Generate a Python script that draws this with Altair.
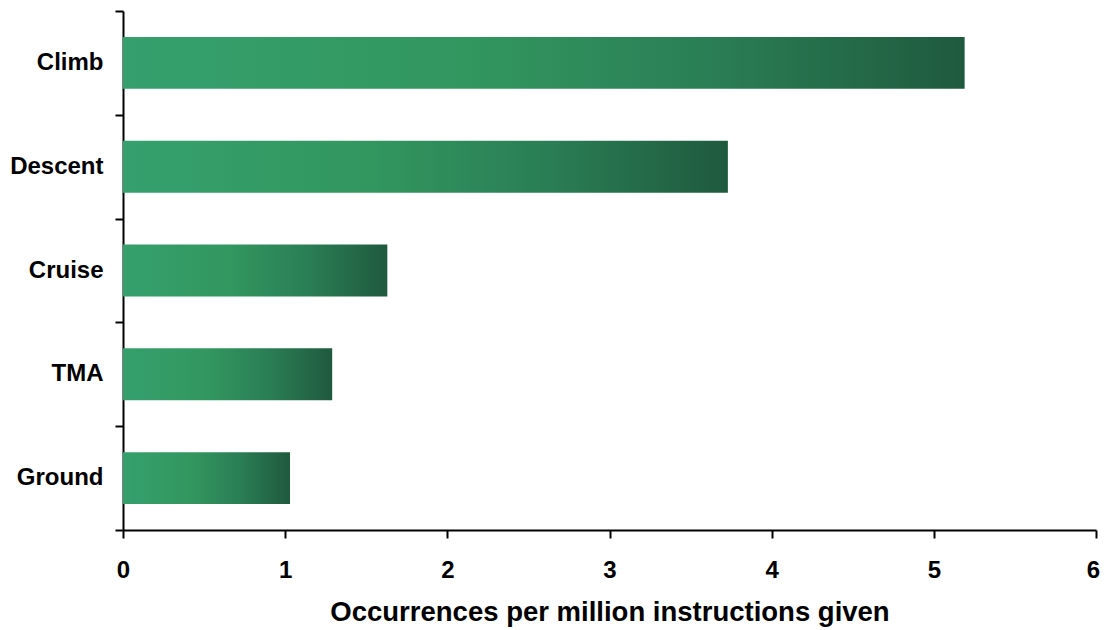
import altair as alt
import pandas as pd

phases = ["Climb", "Descent", "Cruise", "TMA", "Ground"]
values = [5.19, 3.73, 1.63, 1.29, 1.03]
x_ticks = [0, 1, 2, 3, 4, 5, 6]

df = pd.DataFrame({"phase": phases, "value": values})

grad = alt.Gradient(
    gradient="linear", x1=0, x2=1, y1=0, y2=0,
    stops=[
        alt.GradientStop(color="#35a06d", offset=0),
        alt.GradientStop(color="#32975f", offset=0.4),
        alt.GradientStop(color="#2a7e55", offset=0.7),
        alt.GradientStop(color="#1f5a3e", offset=1),
    ],
)

FONT = "Liberation Sans"

bars = (
    alt.Chart(df)
    .mark_bar(color=grad)
    .encode(
        y=alt.Y(
            "phase:N",
            sort=phases,
            scale=alt.Scale(paddingInner=0.5, paddingOuter=0.25),
            axis=alt.Axis(
                title=None,
                ticks=False,
                domainColor="black",
                domainWidth=2,
                labelFont=FONT,
                labelFontWeight="bold",
                labelFontSize=24,
                labelColor="black",
                labelPadding=20,
            ),
        ),
        x=alt.X(
            "value:Q",
            scale=alt.Scale(domain=[0, 6], nice=False),
            axis=alt.Axis(
                values=x_ticks,
                format="d",
                grid=False,
                labelFlush=False,
                labelOffset={"condition": {"test": "datum.value == 6", "value": -3}, "value": 0},
                title="Occurrences per million instructions given",
                titleFont=FONT,
                titleFontWeight="bold",
                titleFontSize=27.5,
                titleColor="black",
                titlePadding=16,
                tickSize=8,
                tickWidth=2,
                tickColor="black",
                domainColor="black",
                domainWidth=2,
                labelFont=FONT,
                labelFontWeight="bold",
                labelFontSize=24,
                labelColor="black",
                labelPadding=20,
            ),
        ),
    )
)

ticks_layer = (
    alt.Chart(df)
    .mark_point(opacity=0)
    .encode(
        y=alt.Y(
            "phase:N",
            sort=phases,
            scale=alt.Scale(paddingInner=0, paddingOuter=0),
            axis=alt.Axis(
                title=None,
                orient="left",
                labels=False,
                domain=False,
                tickBand="extent",
                tickSize=8,
                tickWidth=2,
                tickColor="black",
            ),
        ),
        x=alt.X("value:Q", scale=alt.Scale(domain=[0, 6], nice=False)),
    )
)

chart = (
    alt.layer(bars, ticks_layer)
    .resolve_scale(y="independent")
    .properties(
        width=973,
        height=519,
        autosize=alt.AutoSizeParams(type="none"),
        padding={"left": 115, "top": 3, "right": 5, "bottom": 98},
    )
    .configure_view(stroke=None)
)

chart.save("out.html", embed_options={"renderer": "svg", "actions": False})
